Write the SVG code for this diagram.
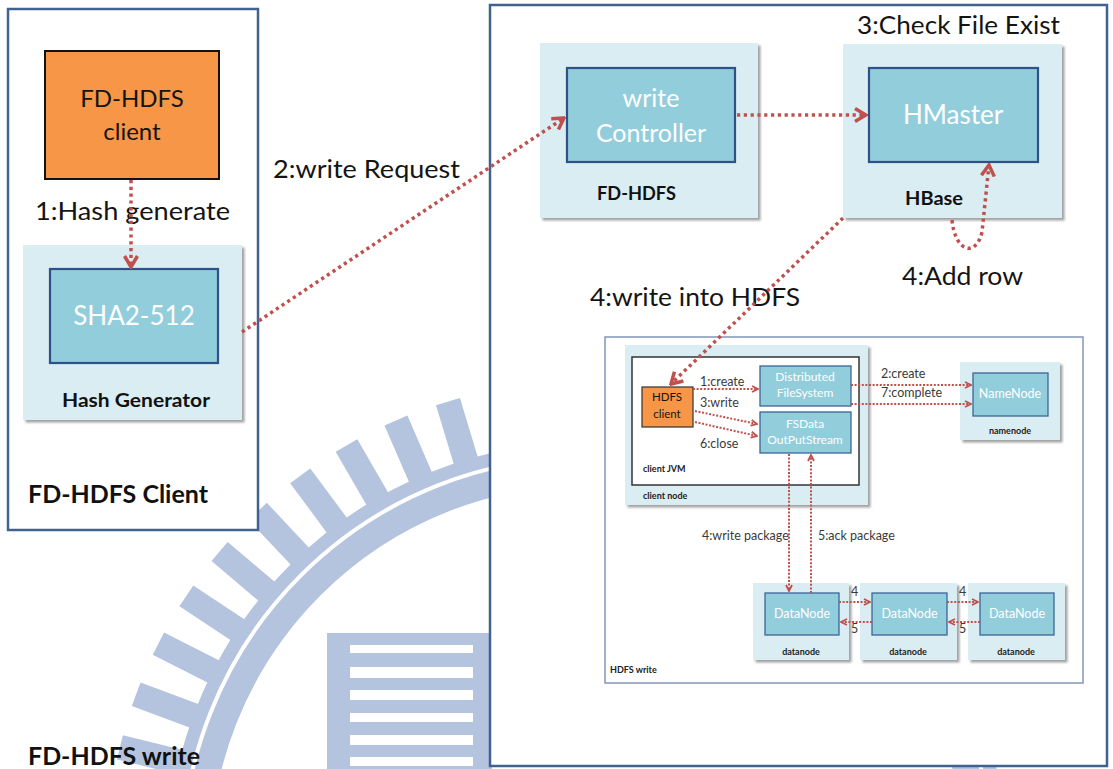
<svg xmlns="http://www.w3.org/2000/svg" width="1113" height="769" viewBox="0 0 1113 769">
<defs>
<style>
.wm{fill:#b4c3de}
.wmr{fill:none;stroke:#b4c3de}
.frame{fill:#ffffff;stroke:#41628f;stroke-width:2.5}
.light{fill:#daedf3;filter:url(#sh)}
.inner{fill:#92cddc;stroke:#2e5288;stroke-width:2.2}
.sinner{fill:#92cddc;stroke:#3b6597;stroke-width:1.3}
.orange{fill:#f79646;stroke:#111111;stroke-width:2}
.sorange{fill:#f79646;stroke:#333333;stroke-width:1.2}
.t{font-family:Lato,"Liberation Sans",sans-serif;fill:#141414}
.big{font-size:25px}
.wt{font-family:Lato,"Liberation Sans",sans-serif;fill:#ffffff;text-anchor:middle}
.bold{font-family:Lato,"Liberation Sans",sans-serif;font-weight:bold;fill:#111111}
.sm{font-family:Lato,"Liberation Sans",sans-serif;font-size:12.5px;fill:#3a3a3a}
.tiny{font-family:Lato,"Liberation Sans",sans-serif;font-weight:bold;font-size:9px;fill:#222222}
.c{fill:none;stroke:#c0504d;stroke-width:3.5;stroke-dasharray:3.2 3.6}
.cs{fill:none;stroke:#c0504d;stroke-width:2;stroke-dasharray:2 1.6}
</style>
<filter id="sh" x="-10%" y="-10%" width="120%" height="120%">
<feDropShadow dx="2.5" dy="2.5" stdDeviation="1.3" flood-color="#707070" flood-opacity="0.65"/>
</filter>
<marker id="ah" markerUnits="userSpaceOnUse" viewBox="0 0 14 16" markerWidth="14" markerHeight="16" refX="12" refY="8" orient="auto">
<path d="M1,1.5 L12,8 L1,14.5" fill="none" stroke="#c0504d" stroke-width="3.5"/>
</marker>
<marker id="as" markerUnits="userSpaceOnUse" viewBox="0 0 8 8" markerWidth="8" markerHeight="8" refX="7" refY="4" orient="auto">
<path d="M1,1 L7,4 L1,7" fill="none" stroke="#c0504d" stroke-width="1.8"/>
</marker>
</defs>
<rect width="1113" height="769" fill="#ffffff"/>
<g id="watermark">
<circle class="wmr" cx="587" cy="862" r="390" stroke-width="26"/>
<circle class="wmr" cx="587" cy="862" r="413.5" stroke-width="13"/>
<g transform="translate(587,862)">
<rect class="wm" x="418" y="-12.5" width="63" height="25" transform="rotate(193.8)"/>
<rect class="wm" x="418" y="-12.5" width="63" height="25" transform="rotate(200.4)"/>
<rect class="wm" x="418" y="-12.5" width="63" height="25" transform="rotate(207)"/>
<rect class="wm" x="418" y="-12.5" width="63" height="25" transform="rotate(213.6)"/>
<rect class="wm" x="418" y="-12.5" width="63" height="25" transform="rotate(220.2)"/>
<rect class="wm" x="418" y="-12.5" width="63" height="25" transform="rotate(226.8)"/>
<rect class="wm" x="418" y="-12.5" width="63" height="25" transform="rotate(233.4)"/>
<rect class="wm" x="418" y="-12.5" width="63" height="25" transform="rotate(240)"/>
<rect class="wm" x="418" y="-12.5" width="63" height="25" transform="rotate(246.6)"/>
<rect class="wm" x="418" y="-12.5" width="63" height="25" transform="rotate(253.2)"/>
<rect class="wm" x="418" y="-12.5" width="63" height="25" transform="rotate(259.8)"/>
</g>
<rect class="wm" x="327" y="633" width="165" height="140"/>
<g fill="#ffffff">
<rect x="350" y="645" width="123" height="8"/>
<rect x="350" y="667" width="123" height="11"/>
<rect x="350" y="690" width="123" height="10"/>
<rect x="350" y="713" width="123" height="9"/>
<rect x="350" y="735" width="123" height="10"/>
<rect x="350" y="757" width="123" height="9"/>
</g>
</g>
<g id="fd-hdfs-client-frame">
<rect class="frame" x="8" y="9" width="250" height="521"/>
<text class="bold" x="28" y="503" font-size="24" textLength="180" lengthAdjust="spacingAndGlyphs">FD-HDFS Client</text>
</g>
<g id="server-frame">
<rect class="frame" x="490" y="5" width="617" height="761"/>
</g>
<text class="bold" x="28" y="765" font-size="24" textLength="172" lengthAdjust="spacingAndGlyphs">FD-HDFS write</text>
<g id="fd-hdfs-client">
<rect class="orange" x="45" y="51" width="174" height="128"/>
<text class="t" x="132" y="107" font-size="24" text-anchor="middle">FD-HDFS</text>
<text class="t" x="132" y="140" font-size="24" text-anchor="middle">client</text>
</g>
<g id="hash-generator">
<rect class="light" x="23" y="245" width="219" height="175"/>
<rect class="inner" x="50" y="269" width="168" height="94"/>
<text class="wt" x="134" y="325" font-size="26">SHA2-512</text>
<text class="bold" x="62" y="407" font-size="18" textLength="148" lengthAdjust="spacingAndGlyphs">Hash Generator</text>
</g>
<g id="fd-hdfs">
<rect class="light" x="540" y="43" width="218" height="175"/>
<rect class="inner" x="567" y="68" width="168" height="94"/>
<text class="wt" x="651" y="107" font-size="25">write</text>
<text class="wt" x="651" y="142" font-size="25">Controller</text>
<text class="bold" x="597" y="200" font-size="18" textLength="79" lengthAdjust="spacingAndGlyphs">FD-HDFS</text>
</g>
<g id="hbase">
<rect class="light" x="843" y="44" width="219" height="174"/>
<rect class="inner" x="869" y="68" width="169" height="94"/>
<text class="wt" x="953" y="124" font-size="26">HMaster</text>
<text class="bold" x="905" y="205" font-size="18" textLength="58" lengthAdjust="spacingAndGlyphs">HBase</text>
</g>
<g id="labels">
<text class="t big" x="35" y="220" textLength="195" lengthAdjust="spacingAndGlyphs">1:Hash generate</text>
<text class="t big" x="273" y="178" textLength="187" lengthAdjust="spacingAndGlyphs">2:write Request</text>
<text class="t big" x="857" y="34" textLength="203" lengthAdjust="spacingAndGlyphs">3:Check File Exist</text>
<text class="t big" x="902" y="285" textLength="121" lengthAdjust="spacingAndGlyphs">4:Add row</text>
<text class="t big" x="590" y="306" textLength="210" lengthAdjust="spacingAndGlyphs">4:write into HDFS</text>
</g>
<g id="hdfs-write">
<rect x="605" y="337" width="478" height="346" fill="#ffffff" stroke="#8396b8" stroke-width="1.5"/>
<text class="tiny" x="610" y="673" font-size="10">HDFS write</text>
</g>
<g id="client-node">
<rect class="light" x="625" y="345" width="243" height="160"/>
<rect x="632" y="357" width="227" height="128" fill="#ffffff" stroke="#333333" stroke-width="1.5"/>
<text class="tiny" x="643" y="472">client JVM</text>
<text class="tiny" x="643" y="499">client node</text>
</g>
<g id="hdfs-client">
<rect class="sorange" x="642" y="387" width="51" height="40"/>
<text class="t" x="667" y="401" font-size="11.5" text-anchor="middle" fill="#3a2a1a">HDFS</text>
<text class="t" x="667" y="418" font-size="11.5" text-anchor="middle">client</text>
</g>
<g id="distributed-filesystem">
<rect class="sinner" x="760" y="366" width="91" height="40"/>
<text class="wt" x="805" y="381" font-size="12">Distributed</text>
<text class="wt" x="805" y="397" font-size="12">FileSystem</text>
</g>
<g id="fsdata-outputstream">
<rect class="sinner" x="760" y="412" width="91" height="41"/>
<text class="wt" x="805" y="428" font-size="12">FSData</text>
<text class="wt" x="805" y="444" font-size="12">OutPutStream</text>
</g>
<g id="namenode">
<rect class="light" x="960" y="362" width="100" height="78"/>
<rect class="sinner" x="973" y="373" width="75" height="43"/>
<text class="wt" x="1010" y="398" font-size="12.5">NameNode</text>
<text class="tiny" x="1010" y="434" text-anchor="middle">namenode</text>
</g>
<g id="datanode-1">
<rect class="light" x="753" y="583" width="96" height="77"/>
<rect class="sinner" x="765" y="593" width="74" height="42"/>
<text class="wt" x="802" y="618" font-size="12.5">DataNode</text>
<text class="tiny" x="801" y="655" text-anchor="middle">datanode</text>
</g>
<g id="datanode-2">
<rect class="light" x="860" y="583" width="97" height="77"/>
<rect class="sinner" x="872" y="593" width="75" height="42"/>
<text class="wt" x="909.5" y="618" font-size="12.5">DataNode</text>
<text class="tiny" x="908" y="655" text-anchor="middle">datanode</text>
</g>
<g id="datanode-3">
<rect class="light" x="968" y="583" width="97" height="77"/>
<rect class="sinner" x="980" y="593" width="74" height="42"/>
<text class="wt" x="1017" y="618" font-size="12.5">DataNode</text>
<text class="tiny" x="1016" y="655" text-anchor="middle">datanode</text>
</g>
<g id="small-labels">
<text class="sm" x="700" y="386">1:create</text>
<text class="sm" x="700" y="407">3:write</text>
<text class="sm" x="700" y="448">6:close</text>
<text class="sm" x="881" y="378">2:create</text>
<text class="sm" x="881" y="397">7:complete</text>
<text class="sm" x="702" y="540">4:write package</text>
<text class="sm" x="818" y="540">5:ack package</text>
<text class="sm" x="851" y="596">4</text>
<text class="sm" x="851" y="633">5</text>
<text class="sm" x="959" y="596">4</text>
<text class="sm" x="959" y="633">5</text>
</g>
<g id="connectors">
<path class="c" d="M131,180 L131,267" marker-end="url(#ah)"/>
<path class="c" d="M242,332 L564,118" marker-end="url(#ah)"/>
<path class="c" d="M737,115 L866,115" marker-end="url(#ah)"/>
<path class="c" d="M952,220 C955,252 976,258 982,232 L989,165" marker-end="url(#ah)"/>
<path class="c" d="M843,218 L671,384" marker-end="url(#ah)"/>
<path class="cs" d="M693,389 L758,389" marker-end="url(#as)"/>
<path class="cs" d="M695,411 L757,424" marker-end="url(#as)"/>
<path class="cs" d="M695,422 L757,436" marker-end="url(#as)"/>
<path class="cs" d="M851,385 L971,385" marker-end="url(#as)"/>
<path class="cs" d="M851,404 L971,404" marker-end="url(#as)"/>
<path class="cs" d="M789,454 L789,591" marker-end="url(#as)"/>
<path class="cs" d="M811,593 L811,455" marker-end="url(#as)"/>
<path class="cs" d="M839,602 L870,602" marker-end="url(#as)"/>
<path class="cs" d="M872,622 L841,622" marker-end="url(#as)"/>
<path class="cs" d="M947,602 L978,602" marker-end="url(#as)"/>
<path class="cs" d="M980,622 L949,622" marker-end="url(#as)"/>
</g>
</svg>
